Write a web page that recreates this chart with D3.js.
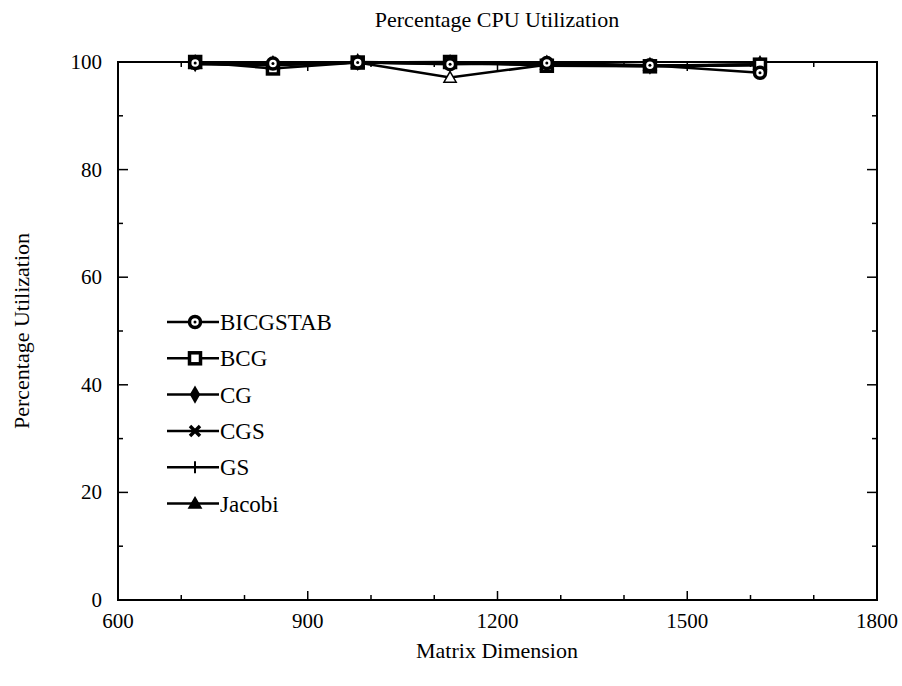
<!DOCTYPE html>
<html>
<head>
<meta charset="utf-8">
<script src="https://cdn.jsdelivr.net/npm/d3@7"></script>
<style>
  body { margin: 0; background: #fff; }
  text { font-family: "Liberation Serif", "Times New Roman", serif; fill: #000; }
</style>
</head>
<body>
<svg id="chart" width="902" height="686"></svg>
<script>
// values
var dims = [722, 845, 979, 1125, 1278, 1441, 1615];
var seriesNames = ["BICGSTAB", "BCG", "CG", "CGS", "GS", "Jacobi"];
var bicgstab = [99.8, 99.7, 99.9, 99.6, 99.8, 99.4, 98.0];
var bcg      = [100, 98.8, 99.9, 100, 99.3, 99.2, 99.5];
var cg       = [99.8, 99.6, 100, 99.8, 99.7, 99.3, 99.6];
var cgs      = [99.7, 99.5, 99.9, 99.7, 99.6, 99.3, 99.5];
var gs       = [99.6, 99.4, 99.9, 99.7, 99.5, 99.2, 99.4];
var jacobi   = [99.7, 99.5, 99.9, 97.1, 99.5, 99.3, 99.5];
var xTicks = [600, 900, 1200, 1500, 1800];
var yTicks = [0, 20, 40, 60, 80, 100];

var allSeries = [bicgstab, bcg, cg, cgs, gs, jacobi];
var markers = ["circle", "square", "diamond", "cross", "plus", "triangle"];

// plot box ("top" is taken by window.top, so prefix these)
var pLeft = 118, pRight = 877, pTop = 62, pBottom = 600;

var x = d3.scaleLinear().domain([600, 1800]).range([pLeft, pRight]);
var y = d3.scaleLinear().domain([0, 100]).range([pBottom, pTop]);

var svg = d3.select("#chart");

// frame
svg.append("rect")
  .attr("x", pLeft).attr("y", pTop)
  .attr("width", pRight - pLeft).attr("height", pBottom - pTop)
  .attr("fill", "none").attr("stroke", "#000").attr("stroke-width", 2);

// ticks, inward on all sides (minor every 100 / 10)
var xMinor = d3.range(600, 1801, 100);
var yMinor = d3.range(0, 101, 10);

svg.append("g").selectAll("line").data(xMinor).enter().append("line")
  .attr("x1", function(d) { return x(d); }).attr("x2", function(d) { return x(d); })
  .attr("y1", pBottom).attr("y2", function(d) { return pBottom - (d % 300 == 0 ? 9 : 5); })
  .attr("stroke", "#000").attr("stroke-width", 1.5);
svg.append("g").selectAll("line").data(xMinor).enter().append("line")
  .attr("x1", function(d) { return x(d); }).attr("x2", function(d) { return x(d); })
  .attr("y1", pTop).attr("y2", function(d) { return pTop + (d % 300 == 0 ? 9 : 5); })
  .attr("stroke", "#000").attr("stroke-width", 1.5);
svg.append("g").selectAll("line").data(yMinor).enter().append("line")
  .attr("y1", function(d) { return y(d); }).attr("y2", function(d) { return y(d); })
  .attr("x1", pLeft).attr("x2", function(d) { return pLeft + (d % 20 == 0 ? 10 : 5); })
  .attr("stroke", "#000").attr("stroke-width", 1.5);
svg.append("g").selectAll("line").data(yMinor).enter().append("line")
  .attr("y1", function(d) { return y(d); }).attr("y2", function(d) { return y(d); })
  .attr("x1", pRight).attr("x2", function(d) { return pRight - (d % 20 == 0 ? 10 : 5); })
  .attr("stroke", "#000").attr("stroke-width", 1.5);

// tick labels
svg.append("g").selectAll("text").data(xTicks).enter().append("text")
  .attr("x", function(d) { return x(d); })
  .attr("y", pBottom + 28)
  .attr("text-anchor", "middle")
  .style("font-size", "21px")
  .text(function(d) { return d; });

svg.append("g").selectAll("text").data(yTicks).enter().append("text")
  .attr("x", pLeft - 16)
  .attr("y", function(d) { return y(d) + 7; })
  .attr("text-anchor", "end")
  .style("font-size", "21px")
  .text(function(d) { return d; });

// titles
svg.append("text").attr("x", 497).attr("y", 27)
  .attr("text-anchor", "middle").style("font-size", "22px")
  .text("Percentage CPU Utilization");
svg.append("text").attr("x", 497).attr("y", 658)
  .attr("text-anchor", "middle").style("font-size", "22px")
  .text("Matrix Dimension");
svg.append("text")
  .attr("transform", "translate(29," + 331 + ") rotate(-90)")
  .attr("text-anchor", "middle").style("font-size", "22px")
  .text("Percentage Utilization");

function drawMarker(g, type, cx, cy, open) {
  if (type == "circle") {
    g.append("circle").attr("cx", cx).attr("cy", cy).attr("r", 5.5)
      .attr("fill", "#fff").attr("stroke", "#000").attr("stroke-width", 3.5);
    g.append("circle").attr("cx", cx).attr("cy", cy).attr("r", 1.5).attr("fill", "#000");
  } else if (type == "square") {
    g.append("rect").attr("x", cx - 5.5).attr("y", cy - 5.5).attr("width", 11).attr("height", 11)
      .attr("fill", "#fff").attr("stroke", "#000").attr("stroke-width", 3.5);
  } else if (type == "diamond") {
    g.append("path").attr("d", d3.symbol(d3.symbolDiamond, 95)())
      .attr("transform", "translate(" + cx + "," + cy + ")").attr("fill", "#000");
  } else if (type == "cross") {
    g.append("path").attr("d", "M-5,-5L5,5M-5,5L5,-5")
      .attr("transform", "translate(" + cx + "," + cy + ")")
      .attr("stroke", "#000").attr("stroke-width", 3.5);
  } else if (type == "plus") {
    g.append("path").attr("d", "M0,-6L0,6")
      .attr("transform", "translate(" + cx + "," + cy + ")")
      .attr("stroke", "#000").attr("stroke-width", 2);
  } else {
    g.append("path").attr("d", d3.symbol(d3.symbolTriangle, 65)())
      .attr("transform", "translate(" + cx + "," + (cy + 1) + ")")
      .attr("fill", open ? "#fff" : "#000").attr("stroke", "#000").attr("stroke-width", 1.5);
  }
}

var line = d3.line()
  .x(function(d, i) { return x(dims[i]); })
  .y(function(d) { return y(d); });

var plot = svg.append("g");
allSeries.forEach(function(vals) {
  plot.append("path").datum(vals)
    .attr("d", line)
    .attr("fill", "none").attr("stroke", "#000").attr("stroke-width", 2.5);
});
// draw markers last-series first so BICGSTAB/BCG sit on top
for (var k = allSeries.length - 1; k >= 0; k--) {
  allSeries[k].forEach(function(v, i) {
    drawMarker(plot, markers[k], x(dims[i]), y(v), true);
  });
}

// legend
var legend = svg.selectAll(".legend")
  .data(seriesNames)
  .enter().append("g")
  .attr("class", "legend")
  .attr("transform", function(d, i) { return "translate(167," + (322 + i * 36.3) + ")"; });

legend.append("line")
  .attr("x1", 0).attr("x2", 52).attr("y1", 0).attr("y2", 0)
  .attr("stroke", "#000").attr("stroke-width", 2.5);
legend.each(function(d, i) {
  drawMarker(d3.select(this), markers[i], 28, 0, false);
});
legend.append("text")
  .attr("x", 53).attr("y", 8)
  .style("font-size", "23px")
  .text(function(d) { return d; });
</script>
</body>
</html>
